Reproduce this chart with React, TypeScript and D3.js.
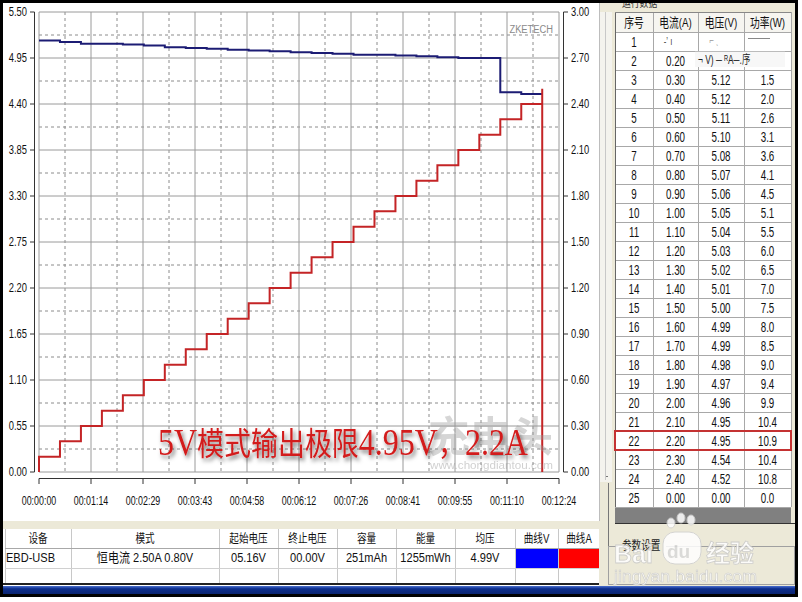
import React from 'react';
import * as d3 from 'd3';

// ---- chart data ----
const timeLabels = ['00:00:00', '00:01:14', '00:02:29', '00:03:43', '00:04:58', '00:06:12', '00:07:26', '00:08:41', '00:09:55', '00:11:10', '00:12:24'];
const voltTicks = [5.5, 4.95, 4.4, 3.85, 3.3, 2.75, 2.2, 1.65, 1.1, 0.55, 0.0];
const ampTicks = [3.0, 2.7, 2.4, 2.1, 1.8, 1.5, 1.2, 0.9, 0.6, 0.3, 0.0];

// step start times (s)
const stepTimes = [0, 30, 60, 90, 120, 150, 180, 210, 240, 270, 300, 330, 360, 390, 420, 450, 480, 510, 540, 570, 600, 630, 660, 690, 720];
const stepVolts = [5.16, 5.14, 5.12, 5.12, 5.11, 5.10, 5.08, 5.07, 5.06, 5.05, 5.04, 5.03, 5.02, 5.01, 5.00, 4.99, 4.99, 4.98, 4.97, 4.96, 4.95, 4.95, 4.54, 4.52, 4.52];
const stepAmps = [0.10, 0.20, 0.30, 0.40, 0.50, 0.60, 0.70, 0.80, 0.90, 1.00, 1.10, 1.20, 1.30, 1.40, 1.50, 1.60, 1.70, 1.80, 1.90, 2.00, 2.10, 2.20, 2.30, 2.40, 2.50];

// ---- right table ----
const rowNo = ['1', '2', '3', '4', '5', '6', '7', '8', '9', '10', '11', '12', '13', '14', '15', '16', '17', '18', '19', '20', '21', '22', '23', '24', '25'];
const rowAmps = ['', '0.20', '0.30', '0.40', '0.50', '0.60', '0.70', '0.80', '0.90', '1.00', '1.10', '1.20', '1.30', '1.40', '1.50', '1.60', '1.70', '1.80', '1.90', '2.00', '2.10', '2.20', '2.30', '2.40', '0.00'];
const rowVolts = ['', '', '5.12', '5.12', '5.11', '5.10', '5.08', '5.07', '5.06', '5.05', '5.04', '5.03', '5.02', '5.01', '5.00', '4.99', '4.99', '4.98', '4.97', '4.96', '4.95', '4.95', '4.54', '4.52', '0.00'];
const rowPower = ['', '', '1.5', '2.0', '2.6', '3.1', '3.6', '4.1', '4.5', '5.1', '5.5', '6.0', '6.5', '7.0', '7.5', '8.0', '8.5', '9.0', '9.4', '9.9', '10.4', '10.9', '10.4', '10.8', '0.0'];
const tableHeads = ['序号', '电流(A)', '电压(V)', '功率(W)'];

// ---- bottom table ----
const infoHeads = ['设备', '模式', '起始电压', '终止电压', '容量', '能量', '均压', '曲线V', '曲线A'];
const infoValues = ['EBD-USB', '恒电流  2.50A  0.80V', '05.16V', '00.00V', '251mAh', '1255mWh', '4.99V', '', ''];

const F = '"Liberation Sans", "Noto Sans CJK SC", Arial, sans-serif';

const T: React.FC<any> = ({ x, y, sx = 0.78, size = 12, anchor = 'middle', fill = '#111', family = F, children }) => (
  <text transform={`translate(${x},${y}) scale(${sx},1)`} textAnchor={anchor} dominantBaseline="central"
    fontSize={size} fontFamily={family} fill={fill}>{children}</text>
);

const App: React.FC = () => {
  const L = 39, R = 559, TOP = 12, BOT = 472;
  const x = d3.scaleLinear().domain([0, 744]).range([L, R]);
  const xTick = d3.scalePoint<string>().domain(timeLabels).range([L, R]);
  const yV = d3.scaleLinear().domain([0, 5.5]).range([BOT, TOP]);
  const yA = d3.scaleLinear().domain([0, 3]).range([BOT, TOP]);

  const voltPts: [number, number][] = stepTimes.map((t, i) => [t, stepVolts[i]]);
  const ampPts: [number, number][] = [[0, 0], ...stepTimes.map((t, i) => [t, stepAmps[i]] as [number, number]), [720, 0]];
  const voltLine = d3.line<[number, number]>().x(d => x(d[0])).y(d => yV(d[1])).curve(d3.curveStepAfter);
  const ampLine = d3.line<[number, number]>().x(d => x(d[0])).y(d => yA(d[1])).curve(d3.curveStepAfter);

  const xs = timeLabels.map(l => xTick(l) as number);
  const ys = voltTicks.map(v => yV(v));
  const xMid = xs.slice(1).map((v, i) => (v + xs[i]) / 2);
  const yMid = ys.slice(1).map((v, i) => (v + ys[i]) / 2);

  // right table geometry
  const cols = [615, 653, 698, 744, 791];
  const headTop = 12, rowTop = 32, rowH = 19;
  // bottom table geometry
  const bCols = [5, 71, 219, 278, 337, 396, 455, 515, 558, 600];

  return (
    <div style={{ position: 'fixed', left: 0, top: 0 }}>
      <svg width={802} height={602} style={{ display: 'block' }}>
        <defs>
          <filter id="shadow" x="-10%" y="-30%" width="120%" height="170%">
            <feDropShadow dx="2" dy="3" stdDeviation="2" floodColor="#000" floodOpacity="0.55" />
          </filter>
          <linearGradient id="bar" x1="0" y1="0" x2="0" y2="1">
            <stop offset="0" stopColor="#4a6fd0" />
            <stop offset="0.35" stopColor="#0c2d8c" />
            <stop offset="1" stopColor="#0a2470" />
          </linearGradient>
        </defs>
        <rect x={0} y={0} width={802} height={602} fill="#fff" />

        {/* grid */}
        {xMid.map((v, i) => <line key={'xm' + i} x1={v} x2={v} y1={TOP} y2={BOT} stroke="#8c8c8c" strokeDasharray="3,3" />)}
        {yMid.map((v, i) => <line key={'ym' + i} x1={L} x2={R} y1={v} y2={v} stroke="#8c8c8c" strokeDasharray="3,3" />)}
        {xs.map((v, i) => <line key={'xg' + i} x1={v} x2={v} y1={TOP} y2={BOT} stroke="#9a9a9a" />)}
        {ys.map((v, i) => <line key={'yg' + i} x1={L} x2={R} y1={v} y2={v} stroke="#9a9a9a" />)}

        {/* axes */}
        <line x1={34.5} x2={34.5} y1={TOP} y2={BOT} stroke="#333" />
        {voltTicks.map((v, i) => (
          <g key={'lv' + i}>
            <line x1={30} x2={34.5} y1={yV(v)} y2={yV(v)} stroke="#333" />
            <T x={27} y={yV(v)} anchor="end">{v.toFixed(2)}</T>
          </g>
        ))}
        <line x1={563.5} x2={563.5} y1={TOP} y2={BOT} stroke="#333" />
        {ampTicks.map((v, i) => (
          <g key={'ra' + i}>
            <line x1={563.5} x2={568} y1={yA(v)} y2={yA(v)} stroke="#333" />
            <T x={571} y={yA(v)} anchor="start">{v.toFixed(2)}</T>
          </g>
        ))}
        <line x1={L} x2={R} y1={478.5} y2={478.5} stroke="#333" />
        {timeLabels.map((l, i) => (
          <g key={'tx' + i}>
            <line x1={xs[i]} x2={xs[i]} y1={478.5} y2={484} stroke="#333" />
            <T x={xs[i]} y={500} sx={0.74}>{l}</T>
          </g>
        ))}

        <T x={553} y={29} anchor="end" size={11} sx={0.85} fill="#8a8a8a">ZKETECH</T>

        {/* series */}
        <path d={voltLine(voltPts) || ''} fill="none" stroke="#1c1c74" strokeWidth={2} />
        <path d={ampLine(ampPts) || ''} fill="none" stroke="#c42426" strokeWidth={2} />

        {/* chongdiantou watermark */}
        <g opacity={0.4}>
          <text x={428} y={452} fontSize={42} fontWeight="bold" fontFamily='"Noto Sans CJK SC", sans-serif' fill="#9a9a9a"
            textLength={125} lengthAdjust="spacingAndGlyphs">充电头</text>
          <text x={430} y={469} fontSize={11} fontFamily={F} fill="#8a8a8a" textLength={123} lengthAdjust="spacingAndGlyphs">www.chongdiantou.com</text>
        </g>

        {/* annotation */}
        <text x={158} y={455} fontSize={32} fontFamily='"Liberation Serif", "Noto Sans CJK SC", serif' fill="#d21a1a"
          filter="url(#shadow)" textLength={370} lengthAdjust="spacingAndGlyphs">
          <tspan fontSize={38}>5V</tspan>模式输出极限<tspan fontSize={38}>4.95V</tspan>，<tspan fontSize={38}>2.2A</tspan>
        </text>

        {/* bottom info table */}
        <rect x={3} y={521} width={597} height={8} fill="#ECE9D8" />
        <rect x={5} y={529} width={595} height={54} fill="#fff" />
        {bCols.map((c, i) => <line key={'bc' + i} x1={c + 0.5} x2={c + 0.5} y1={529} y2={583} stroke="#c8c8c8" />)}
        <line x1={5} x2={600} y1={548.5} y2={548.5} stroke="#a8a8a8" />
        <line x1={5} x2={600} y1={568.5} y2={568.5} stroke="#d0d0d0" />
        <rect x={bCols[7] + 1} y={549} width={bCols[8] - bCols[7] - 1} height={19} fill="#0000ff" />
        <rect x={bCols[8] + 1} y={549} width={bCols[9] - bCols[8] - 1} height={19} fill="#ff0000" />
        {infoHeads.map((h, i) => (
          <T key={'ih' + i} x={(bCols[i] + bCols[i + 1]) / 2} y={539} sx={0.8}>{h}</T>
        ))}
        {infoValues.map((v, i) => (
          <T key={'iv' + i} x={i === 0 ? 6 : (bCols[i] + bCols[i + 1]) / 2} y={558} sx={0.85} size={13} anchor={i === 0 ? 'start' : 'middle'}>{v}</T>
        ))}
        <rect x={3} y={583} width={794} height={2} fill="#222" />
        <rect x={3} y={586} width={794} height={8} fill="url(#bar)" />

        {/* right panel */}
        <rect x={599} y={0} width={198} height={586} fill="#ECE9D8" />
        <rect x={600} y={12} width={12} height={470} fill="#f4f3ee" />
        <line x1={605.5} x2={605.5} y1={12} y2={480} stroke="#c8c8c8" />
        <line x1={608.5} x2={608.5} y1={483} y2={585} stroke="#777" />
        <line x1={606} x2={608} y1={476.5} y2={476.5} stroke="#777" />
        <T x={622} y={3} anchor="start" size={11} sx={0.8} fill="#333">运行数据</T>

        <rect x={cols[0]} y={headTop} width={cols[4] - cols[0]} height={rowTop - headTop} fill="#f6f5f0" />
        <rect x={cols[0]} y={rowTop} width={cols[4] - cols[0]} height={rowH * 25} fill="#fff" />
        <rect x={cols[0]} y={rowTop + rowH * 25} width={cols[4] - cols[0]} height={16} fill="#808080" />
        <line x1={cols[0]} x2={cols[4] + 4} y1={523.5} y2={523.5} stroke="#333" />
        {rowNo.map((_, i) => (
          <line key={'rl' + i} x1={cols[0]} x2={cols[4]} y1={rowTop + rowH * i + 0.5} y2={rowTop + rowH * i + 0.5} stroke="#a8a8a8" />
        ))}
        <line x1={cols[0]} x2={cols[4]} y1={rowTop + rowH * 25 + 0.5} y2={rowTop + rowH * 25 + 0.5} stroke="#a8a8a8" />
        {cols.map((c, i) => (
          <line key={'cl' + i} x1={c + 0.5} x2={c + 0.5} y1={headTop} y2={rowTop + rowH * 25} stroke={i === 0 ? '#666' : '#a8a8a8'} />
        ))}
        <line x1={cols[0]} x2={cols[4]} y1={headTop + 0.5} y2={headTop + 0.5} stroke="#888" />
        {tableHeads.map((h, i) => (
          <T key={'th' + i} x={(cols[i] + cols[i + 1]) / 2} y={22} sx={0.75} size={13}>{h}</T>
        ))}
        {rowNo.map((n, i) => {
          const cy = rowTop + rowH * i + rowH / 2 + 0.5;
          return (
            <g key={'row' + i}>
              <T x={(cols[0] + cols[1]) / 2} y={cy} sx={0.7} size={14}>{n}</T>
              <T x={(cols[1] + cols[2]) / 2} y={cy} sx={0.7} size={14}>{rowAmps[i]}</T>
              <T x={(cols[2] + cols[3]) / 2} y={cy} sx={0.7} size={14}>{rowVolts[i]}</T>
              <T x={(cols[3] + cols[4]) / 2} y={cy} sx={0.7} size={14}>{rowPower[i]}</T>
            </g>
          );
        })}
        {/* garbled tooltip remains over rows 1-2 */}
        <T x={668} y={41} sx={0.7} size={11} fill="#444">-ʼ  ı</T>
        <T x={714} y={40} sx={0.7} size={11} fill="#999">⌐  ˎ</T>
        <line x1={748} x2={770} y1={38.5} y2={38.5} stroke="#888" />
        <rect x={695} y={52} width={90} height={15} fill="#f7f7f7" />
        <line x1={695} x2={785} y1={51.5} y2={51.5} stroke="#bbb" />
        <T x={698} y={60} anchor="start" sx={0.7} size={12} fill="#222">¬ V) ─  ᴿA─.序</T>

        <rect x={615} y={431} width={176} height={19} fill="none" stroke="#c43232" strokeWidth={2} />

        {/* param group */}
        <rect x={608.5} y={546.5} width={186} height={38} fill="none" stroke="#a0a0a0" />
        <rect x={618} y={540} width={48} height={12} fill="#ECE9D8" />
        <T x={622} y={546} anchor="start" sx={0.8} fill="#222">参数设置</T>

        {/* baidu watermark */}
        <g opacity={0.85}>
          <ellipse cx={671} cy={523} rx={4} ry={5} fill="#fff" stroke="#d0d0d0" />
          <ellipse cx={681} cy={518} rx={4} ry={5} fill="#fff" stroke="#d0d0d0" />
          <ellipse cx={691} cy={520} rx={4} ry={5} fill="#fff" stroke="#d0d0d0" />
          <text x={614} y={563} fontSize={25} fontWeight="bold" fontFamily={F} fill="#fff" stroke="#c8c8c8" strokeWidth={0.8}>Bai</text>
          <rect x={663} y={532} width={38} height={32} rx={12} fill="#fff" stroke="#d0d0d0" />
          <text x={667} y={558} fontSize={19} fontWeight="bold" fontFamily={F} fill="#d8d8d8">du</text>
          <text x={706} y={562} fontSize={24} fontWeight="bold" fontFamily='"Noto Sans CJK SC", sans-serif' fill="#fff" stroke="#c8c8c8" strokeWidth={0.8}>经验</text>
          <text x={614} y={582} fontSize={17} fontFamily={F} fill="#fff" stroke="#c8c8c8" strokeWidth={0.6}
            textLength={143} lengthAdjust="spacingAndGlyphs">jingyan.baidu.com</text>
        </g>

        {/* outer frame */}
        <line x1={599.5} x2={599.5} y1={0} y2={521} stroke="#bdbdbd" />
        <rect x={1.5} y={1.5} width={795} height={594} fill="none" stroke="#000" strokeWidth={3} />
      </svg>
    </div>
  );
};

export default App;
